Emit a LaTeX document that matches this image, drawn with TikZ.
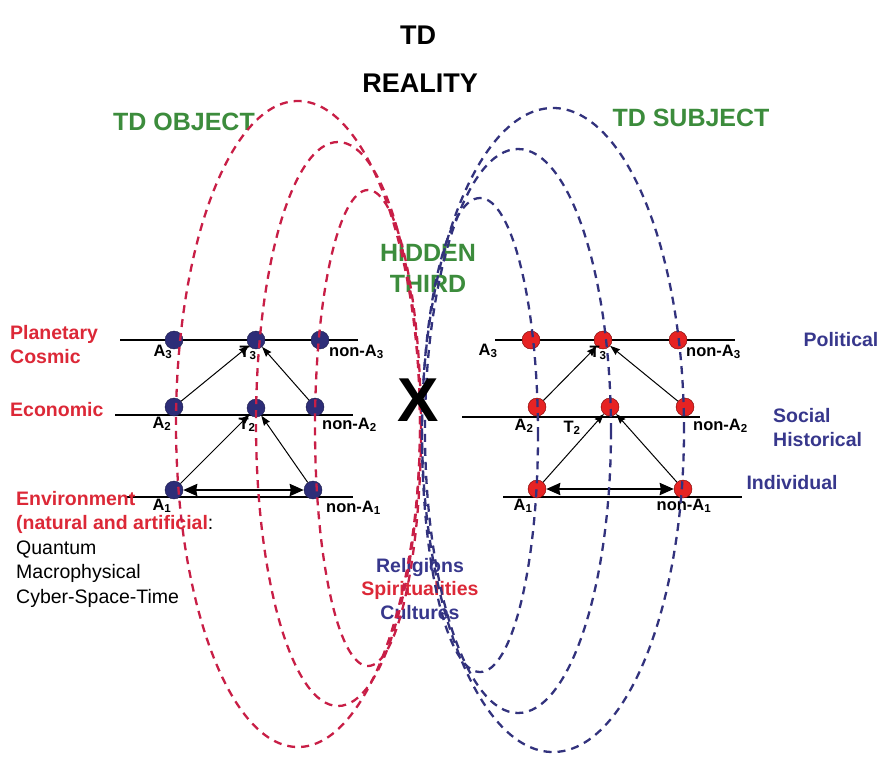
\documentclass[tikz,border=0pt]{standalone}
\usepackage{fontspec}
\setmainfont{Liberation Sans}
\usetikzlibrary{arrows,arrows.meta,positioning}
\definecolor{objred}{RGB}{200,30,70}
\definecolor{subjblue}{RGB}{50,50,125}
\definecolor{tdgreen}{RGB}{60,140,60}
\definecolor{labred}{RGB}{220,40,55}
\definecolor{labblue}{RGB}{55,55,140}
\definecolor{dotblue}{RGB}{45,45,120}
\definecolor{dotred}{RGB}{230,35,35}

\begin{document}
\begin{tikzpicture}[
    x=1pt, y=-1pt,
    dotL/.style={circle, draw=dotblue!60!black, fill=dotblue, minimum size=18pt, inner sep=0pt},
    dotR/.style={circle, draw=red!45!black, fill=dotred, minimum size=18pt, inner sep=0pt},
    lev/.style={font=\fontsize{16.5}{18}\selectfont\bfseries, inner sep=1pt},
    side/.style={font=\fontsize{19.5}{24}\selectfont\bfseries, align=left, inner sep=0pt},
    title/.style={font=\fontsize{25}{31}\selectfont\bfseries, align=center, inner sep=0pt},
    arrow/.style={-{Stealth[length=10pt,width=7pt,inset=1pt]}, line width=1pt},
    both/.style={{Stealth[length=14pt,width=12pt,inset=1pt]}-{Stealth[length=14pt,width=12pt,inset=1pt]}, line width=2.4pt},
    orbitR/.style={objred, dash pattern=on 8pt off 6pt, line width=2.3pt},
    orbitB/.style={subjblue, dash pattern=on 8pt off 6pt, line width=2.3pt}
]
\useasboundingbox (0,0) rectangle (882,756);

% Title
\node[title, font=\fontsize{27}{31}\selectfont\bfseries] (td) at (418,35) {TD};
\node[title, font=\fontsize{27}{31}\selectfont\bfseries] (reality) at (420,83) {REALITY};
\node[title, tdgreen] (object) at (184,122) {TD OBJECT};
\node[title, tdgreen] (subject) at (691,118) {TD SUBJECT};
\node[title, tdgreen] (hidden) at (428,268) {HIDDEN\\THIRD};

% ------------------ Levels ------------------
\draw[line width=1.3pt] (120,340) -- (358,340);
\draw[line width=1.3pt] (115,415) -- (353,415);
\draw[line width=1.3pt] (125,497) -- (353,497);
\draw[line width=1.3pt] (495,340) -- (735,340);
\draw[line width=1.3pt] (462,417) -- (700,417);
\draw[line width=1.3pt] (503,497) -- (742,497);

\node[dotL] (lA3) at (174,340) {};
\node[dotL] (lT3) at (256,340) {};
\node[dotL] (lN3) at (320,340) {};
\node[dotL] (lA2) at (174,407) {};
\node[dotL] (lT2) at (256,408) {};
\node[dotL] (lN2) at (315,407) {};
\node[dotL] (lA1) at (174,490) {};
\node[dotL] (lN1) at (313,490) {};

\node[dotR] (rA3) at (531,340) {};
\node[dotR] (rT3) at (603,340) {};
\node[dotR] (rN3) at (678,340) {};
\node[dotR] (rA2) at (537,407) {};
\node[dotR] (rT2) at (610,407) {};
\node[dotR] (rN2) at (685,407) {};
\node[dotR] (rA1) at (537,489) {};
\node[dotR] (rN1) at (683,489) {};

% labels
\node[lev] (lA3l) at (163,352) {A\textsubscript{3}};
\node[lev] (lT3l) at (248,353) {T\textsubscript{3}};
\node[lev, anchor=west] (lN3l) at (328,352) {non-A\textsubscript{3}};
\node[lev] (lA2l) at (162,424) {A\textsubscript{2}};
\node[lev] (lT2l) at (247,425) {T\textsubscript{2}};
\node[lev, anchor=west] (lN2l) at (321,425) {non-A\textsubscript{2}};
\node[lev] (lA1l) at (162,506) {A\textsubscript{1}};
\node[lev, anchor=west] (lN1l) at (325,508) {non-A\textsubscript{1}};

\node[lev] (rA3l) at (488,351) {A\textsubscript{3}};
\node[lev] (rT3l) at (598,353) {T\textsubscript{3}};
\node[lev, anchor=west] (rN3l) at (685,352) {non-A\textsubscript{3}};
\node[lev] (rA2l) at (524,426) {A\textsubscript{2}};
\node[lev] (rT2l) at (572,428) {T\textsubscript{2}};
\node[lev, anchor=west] (rN2l) at (692,426) {non-A\textsubscript{2}};
\node[lev] (rA1l) at (523,506) {A\textsubscript{1}};
\node[lev] (rN1l) at (684,506) {non-A\textsubscript{1}};

% ------------------ Arrows ------------------
\draw[arrow] (lA2) -- (lT3);
\draw[arrow] (lN2) -- (lT3);
\draw[arrow] (lA1) -- (lT2);
\draw[arrow] (lN1) -- (lT2);
\draw[both] (lA1) -- (lN1);

\draw[arrow] (rA2) -- (rT3);
\draw[arrow] (rN2) -- (rT3);
\draw[arrow] (rA1) -- (rT2);
\draw[arrow] (rN1) -- (rT2);
\draw[both] (rA1) -- (rN1);

% ------------------ Side texts ------------------
\node[side, labred, anchor=west] (planet) at (10,345) {Planetary\\Cosmic};
\node[side, labred, anchor=west] (econ) at (10,410) {Economic};
\node[side, anchor=west, font=\fontsize{19.5}{24.5}\selectfont] (env) at (16,549)
  {\textbf{\textcolor{labred}{Environment}}\\
   \textbf{\textcolor{labred}{(natural and artificial}}:\\
   Quantum\\Macrophysical\\Cyber-Space-Time};
\node[side, labblue] (polit) at (841,340) {Political};
\node[side, labblue, anchor=west] (social) at (773,428) {Social\\Historical};
\node[side, labblue] (indiv) at (792,483) {Individual};
\node[side, align=center, font=\fontsize{19.5}{23.5}\selectfont\bfseries] (relig) at (420,589)
  {\textcolor{labblue}{Religions}\\\textcolor{labred}{Spiritualities}\\\textcolor{labblue}{Cultures}};

% ------------------ Orbits ------------------
\draw[orbitR] (298,424) ellipse [x radius=122pt, y radius=323pt];
\draw[orbitR] (338,424) ellipse [x radius=82pt, y radius=282pt];
\draw[orbitR] (368,428) ellipse [x radius=53pt, y radius=238pt];
\draw[orbitB] (553,430) ellipse [x radius=131pt, y radius=322pt];
\draw[orbitB] (518,431) ellipse [x radius=93pt, y radius=282pt];
\draw[orbitB] (480,435) ellipse [x radius=58pt, y radius=237pt];

\node[font=\fontsize{62}{62}\selectfont\bfseries, inner sep=0pt] (x) at (418,400) {X};

\end{tikzpicture}
\end{document}
